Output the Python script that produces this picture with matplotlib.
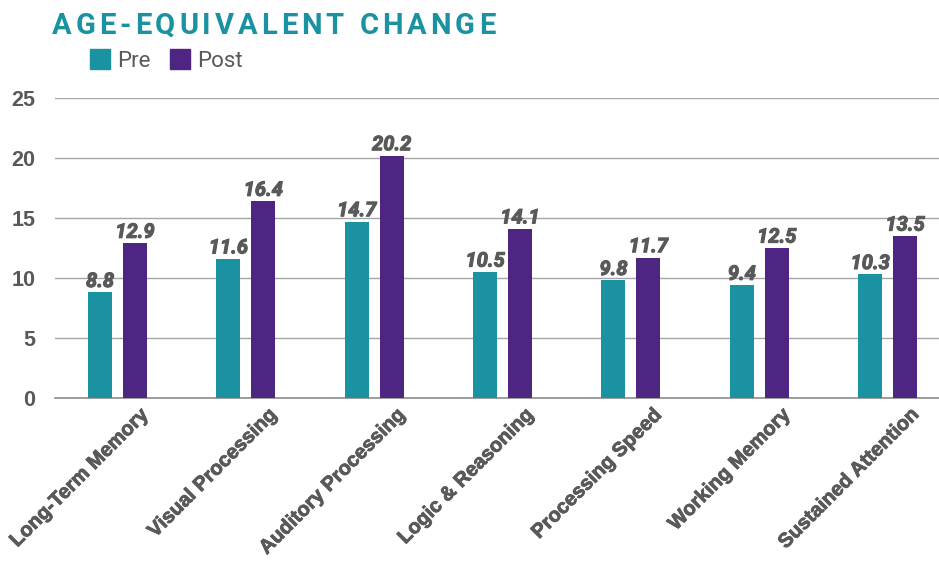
import numpy as np
import matplotlib.pyplot as plt
import matplotlib.patheffects as pe
from matplotlib.transforms import offset_copy

# datos del gráfico
categorias = ['Long-Term Memory', 'Visual Processing', 'Auditory Processing',
              'Logic & Reasoning', 'Processing Speed', 'Working Memory',
              'Sustained Attention']
pre = [8.8, 11.6, 14.7, 10.5, 9.8, 9.4, 10.3]
post = [12.9, 16.4, 20.2, 14.1, 11.7, 12.5, 13.5]
ticks_y = [0, 5, 10, 15, 20, 25]

TEAL = '#1a92a2'
MORADO = '#4f2583'
GRIS = '#595959'

fig = plt.figure(figsize=(9.39, 5.61), dpi=100)
ax = fig.add_axes([55/939, 163/561, 884/939, 300/561])

x = np.arange(len(categorias))
ancho = 0.187
off = 0.136
b1 = ax.bar(x - off, pre, ancho, color=TEAL, zorder=3)
b2 = ax.bar(x + off, post, ancho, color=MORADO, zorder=3)

ax.set_xlim(-0.487, 6.40)
ax.set_ylim(0, 25)
ax.set_yticks(ticks_y)
ax.set_yticklabels([str(t) for t in ticks_y], fontsize=15.5, fontweight='bold',
                   color=GRIS, family='Liberation Sans')
ax.tick_params(axis='y', length=0, pad=14)
ax.grid(axis='y', color='#a6a6a6', lw=1, zorder=0)
for s in ['top', 'right', 'left']:
    ax.spines[s].set_visible(False)
ax.spines['bottom'].set_color('#8c8c8c')
ax.spines['bottom'].set_linewidth(1.2)

ax.set_xticks(x)
ax.tick_params(axis='x', length=0)
ax.set_xticklabels([])
for i, cat in enumerate(categorias):
    tr = offset_copy(ax.get_xaxis_transform(), fig=fig, x=20, y=-10, units='points')
    ax.text(i, 0, cat, transform=tr, rotation=45, ha='right', va='center',
            rotation_mode='anchor', fontsize=14.5, fontweight='bold',
            color=GRIS, family='Liberation Sans',
            path_effects=[pe.withStroke(linewidth=0.6, foreground=GRIS)])

# etiquetas de valor
efecto = [pe.withStroke(linewidth=0.8, foreground=GRIS)]
for barras in (b1, b2):
    for r in barras:
        h = r.get_height()
        ax.annotate(f'{h:.1f}', (r.get_x() + r.get_width()/2, h),
                    xytext=(0, 1), textcoords='offset points',
                    ha='center', va='bottom', fontsize=14.5,
                    fontweight='bold', fontstyle='italic', color=GRIS,
                    family=['DejaVu Sans Condensed', 'Liberation Sans Narrow', 'Roboto'],
                    path_effects=efecto, clip_on=False, zorder=4)

# título con espaciado entre letras
titulo = 'AGE-EQUIVALENT CHANGE'
renderer = fig.canvas.get_renderer()
xp = 52
for ch in titulo:
    t = fig.text(xp/939, 1 - 34/561, ch, fontsize=21, fontweight='bold',
                 color=TEAL, family='Roboto', ha='left', va='baseline')
    w = t.get_window_extent(renderer).width
    if ch == ' ':
        w = 8
    xp += w + 3.9

# leyenda
for cx, color, etiqueta in [(90, TEAL, 'Pre'), (170, MORADO, 'Post')]:
    fig.patches.append(plt.Rectangle((cx/939, 1 - 69/561), 20/939, 20/561,
                                     transform=fig.transFigure, color=color))
    fig.text((cx + 27)/939, 1 - 67/561, etiqueta, fontsize=16, color=GRIS,
             family='Roboto', va='baseline', ha='left')

fig.savefig('out.png', dpi=100)
